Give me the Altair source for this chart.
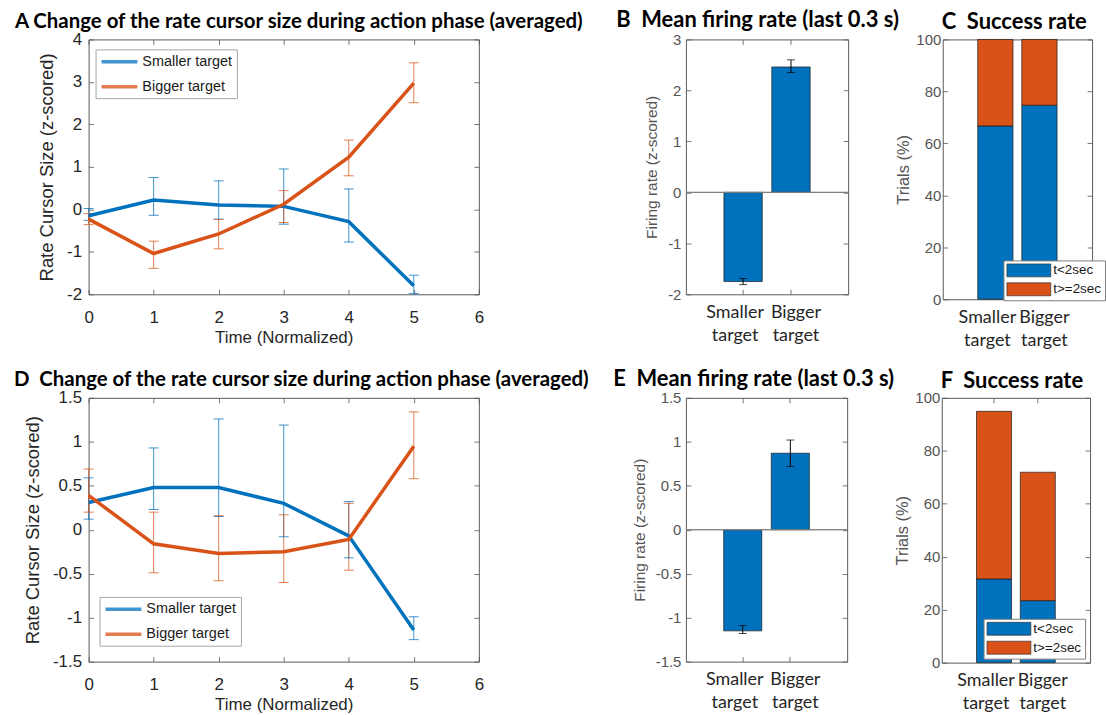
import altair as alt
import pandas as pd

# ---------------- data ----------------
time_steps = [0, 1, 2, 3, 4, 5]
series_names = ["Smaller target", "Bigger target"]
groups = ["Smaller target", "Bigger target"]
duration_classes = ["t<2sec", "t>=2sec"]

# A: rate cursor size over normalized time (mean and error-bar limits)
a_small_mean = [-0.15, 0.22, 0.10, 0.07, -0.29, -1.80]
a_small_lo = [-0.26, -0.14, -0.23, -0.35, -0.77, -1.98]
a_small_hi = [0.02, 0.75, 0.67, 0.95, 0.48, -1.55]
a_big_mean = [-0.23, -1.04, -0.58, 0.12, 1.23, 2.97]
a_big_lo = [-0.36, -1.39, -0.93, -0.31, 0.79, 2.51]
a_big_hi = [-0.10, -0.75, -0.24, 0.44, 1.63, 3.45]

# D: same measure, second data set
d_small_mean = [0.31, 0.48, 0.48, 0.30, -0.07, -1.14]
d_small_lo = [0.12, 0.23, 0.15, -0.08, -0.32, -1.25]
d_small_hi = [0.59, 0.93, 1.26, 1.19, 0.32, -0.99]
d_big_mean = [0.39, -0.16, -0.27, -0.25, -0.11, 0.95]
d_big_lo = [0.20, -0.49, -0.58, -0.60, -0.46, 0.58]
d_big_hi = [0.69, 0.20, 0.16, 0.17, 0.30, 1.34]

# B / E: mean firing rate in the last 0.3 s
b_rate = [-1.75, 2.46]
b_lo = [-1.81, 2.35]
b_hi = [-1.69, 2.60]
e_rate = [-1.15, 0.87]
e_lo = [-1.18, 0.72]
e_hi = [-1.09, 1.02]

# C / F: success rate split by completion time (% of trials)
c_fast = [66.7, 74.7]
c_slow = [33.3, 25.3]
f_fast = [31.6, 23.4]
f_slow = [63.3, 48.5]

# ---------------- styling ----------------
BLUE = "#0072BD"
ORANGE = "#D95319"
DARK = "#262626"
GREY = "#555555"
TICK = "#555555"
AXIS_FONT = "Liberation Sans"
TITLE_FONT = "Lato"
NB = "\u00a0"


def tick_axis(orient, values=None):
    """Tick marks only, pointing into the frame."""
    kw = dict(orient=orient, tickSize=5, offset=-5, domain=False, labels=False,
              grid=False, title=None, tickColor=TICK, tickWidth=0.8)
    if values is not None:
        kw["values"] = values
    return alt.Axis(**kw)


def label_axis(orient, title, values=None, color=DARK, size=17, title_size=17,
               label_pad=6, title_pad=6, **extra):
    kw = dict(orient=orient, tickSize=5, offset=-5, domain=False, grid=False,
              tickColor=TICK, tickWidth=0.8, labelFont=AXIS_FONT, labelFontSize=size,
              labelColor=color, labelPadding=label_pad, labelFlush=False,
              labelOverlap=False, titleFont=AXIS_FONT, titleFontSize=title_size,
              titleFontWeight="normal", titleColor=color, titlePadding=title_pad)
    if values is not None:
        kw["values"] = values
    kw["title"] = title
    kw.update(extra)
    return alt.Axis(**kw)


def panel_title(text, dx, size, offset=-2):
    return alt.Title(text, anchor="start", frame="group", dx=dx, offset=offset,
                     font=TITLE_FONT, fontSize=size, fontWeight="bold", color="black")


def line_legend(lx, ly):
    # 36 px stroke starting at the left edge of the symbol slot
    return alt.Legend(
        orient="none", legendX=lx, legendY=ly, title=None,
        symbolType="M-1,0H4.54", symbolSize=169, symbolOffset=0,
        symbolStrokeWidth=3.5, labelOffset=26,
        labelFont=AXIS_FONT, labelFontSize=14.5, labelColor="#1a1a1a",
        strokeColor="#a6a6a6", fillColor="white", padding=4, rowPadding=9)


def swatch_legend(lx, ly):
    # 44 x 13 px colour swatches
    return alt.Legend(
        orient="none", legendX=lx, legendY=ly, title=None,
        symbolType="M-1,-1H5.77V1H-1Z", symbolSize=169, symbolOffset=0,
        labelOffset=33, symbolStrokeColor="#333333", symbolStrokeWidth=0.7,
        labelFont=AXIS_FONT, labelFontSize=13.5, labelColor="#1a1a1a",
        strokeColor="#7f7f7f", fillColor="white", padding=3, rowPadding=3)


def line_panel(small, small_lo, small_hi, big, big_lo, big_hi, ydom, yvals,
               title, title_dx, lx, ly, width, height):
    rows = []
    for name, m, lo, hi in ((series_names[0], small, small_lo, small_hi),
                            (series_names[1], big, big_lo, big_hi)):
        for t, v, l, h in zip(time_steps, m, lo, hi):
            rows.append({"time": t, "series": name, "mean": v, "lo": l, "hi": h})
    df = pd.DataFrame(rows)

    xs = alt.Scale(domain=[0, 6], nice=False, zero=False)
    ys = alt.Scale(domain=ydom, nice=False, zero=False)
    color = alt.Color("series:N", scale=alt.Scale(domain=series_names, range=[BLUE, ORANGE]),
                      legend=line_legend(lx, ly))
    xvals = [0, 1, 2, 3, 4, 5, 6]

    base = alt.Chart(df)
    err = base.mark_rule(strokeWidth=1, opacity=0.75).encode(
        x=alt.X("time:Q", scale=xs, axis=tick_axis("top", xvals)),
        y=alt.Y("lo:Q", scale=ys, axis=tick_axis("right", yvals)),
        y2="hi:Q",
        color=color,
    )
    cap_lo = base.mark_tick(orient="horizontal", size=10, thickness=1, opacity=0.75).encode(
        x=alt.X("time:Q", scale=xs, axis=None),
        y=alt.Y("lo:Q", scale=ys, axis=None),
        color=color,
    )
    cap_hi = base.mark_tick(orient="horizontal", size=10, thickness=1, opacity=0.75).encode(
        x=alt.X("time:Q", scale=xs, axis=None),
        y=alt.Y("hi:Q", scale=ys, axis=None),
        color=color,
    )
    lines = base.mark_line(strokeWidth=3.5).encode(
        x=alt.X("time:Q", scale=xs,
                axis=label_axis("bottom", "Time (Normalized)", xvals, label_pad=15, title_pad=4)),
        y=alt.Y("mean:Q", scale=ys,
                axis=label_axis("left", "Rate Cursor Size (z-scored)", yvals,
                                title_size=18.5, label_pad=7, title_pad=10,
                                labelExpr="toString(datum.value)")),
        color=color,
        order="time:Q",
    )
    return (alt.layer(err, cap_lo, cap_hi, lines)
            .resolve_axis(x="independent", y="independent")
            .properties(width=width, height=height, title=panel_title(title, title_dx, 20.5)))


def group_x(axis):
    return alt.X("group:N", sort=groups,
                 scale=alt.Scale(domain=groups, paddingInner=0.2, paddingOuter=0.794),
                 axis=axis)


def category_axis():
    return alt.Axis(orient="bottom", tickSize=5, offset=-5, domain=False, grid=False,
                    tickColor=TICK, tickWidth=0.8, labelAngle=0,
                    labelExpr="split(datum.label, ' ')", labelFont=TITLE_FONT,
                    labelFontSize=18, labelLineHeight=23, labelPadding=9,
                    labelOffset={"condition": {"test": "datum.value == 'Smaller target'",
                                               "value": -8},
                                 "value": 5},
                    labelColor=DARK, labelBaseline="top", title=None)


def rate_panel(vals, lo, hi, ydom, yvals, title, title_dx, width, height):
    df = pd.DataFrame({"group": groups, "value": vals, "lo": lo, "hi": hi})
    ys = alt.Scale(domain=ydom, nice=False, zero=False)
    base = alt.Chart(df)
    bars = base.mark_bar(color=BLUE, stroke="#1a1a1a", strokeWidth=0.7).encode(
        x=group_x(category_axis()),
        y=alt.Y("value:Q", scale=ys,
                axis=label_axis("left", "Firing rate (z-scored)", yvals, color=GREY,
                                size=15, title_size=15.5, label_pad=5, title_pad=8,
                                labelExpr="toString(datum.value)")),
    )
    zero = base.mark_rule(color="#7f7f7f", strokeWidth=1).encode(
        y=alt.Y(datum=0, scale=ys, axis=None)
    )
    err = base.mark_rule(color="black", strokeWidth=1).encode(
        x=group_x(tick_axis("top")),
        y=alt.Y("lo:Q", scale=ys, axis=tick_axis("right", yvals)),
        y2="hi:Q",
    )
    cap_lo = base.mark_tick(orient="horizontal", size=8, thickness=1, color="black").encode(
        x=group_x(None), y=alt.Y("lo:Q", scale=ys, axis=None))
    cap_hi = base.mark_tick(orient="horizontal", size=8, thickness=1, color="black").encode(
        x=group_x(None), y=alt.Y("hi:Q", scale=ys, axis=None))
    return (alt.layer(bars, zero, err, cap_lo, cap_hi)
            .resolve_axis(x="independent", y="independent")
            .properties(width=width, height=height,
                        title=panel_title(title, title_dx, 22, offset=0)))


def success_panel(fast, slow, title, title_dx, lx, ly, width, height):
    rows = []
    for g, fv, sv in zip(groups, fast, slow):
        rows.append({"group": g, "part": duration_classes[0], "pct": fv, "rank": 0})
        rows.append({"group": g, "part": duration_classes[1], "pct": sv, "rank": 1})
    df = pd.DataFrame(rows)
    ys = alt.Scale(domain=[0, 100], nice=False, zero=False)
    yvals = [0, 20, 40, 60, 80, 100]
    base = alt.Chart(df)
    bars = base.mark_bar(stroke="#1a1a1a", strokeWidth=0.7).encode(
        x=group_x(category_axis()),
        y=alt.Y("pct:Q", stack="zero", scale=ys,
                axis=label_axis("left", "Trials (%)", yvals, color=GREY, size=15,
                                title_size=16.5, label_pad=2, title_pad=4)),
        color=alt.Color("part:N", scale=alt.Scale(domain=duration_classes, range=[BLUE, ORANGE]),
                        legend=swatch_legend(lx, ly)),
        order=alt.Order("rank:Q"),
    )
    frame = base.mark_tick(opacity=0).encode(
        x=group_x(tick_axis("top")),
        y=alt.Y("pct:Q", scale=ys, axis=tick_axis("right", yvals)),
    )
    return (alt.layer(bars, frame)
            .resolve_axis(x="independent", y="independent")
            .properties(width=width, height=height, title=panel_title(title, title_dx, 22)))


title_change = "Change of the rate cursor size during action phase (averaged)"
title_rate = "Mean firing rate (last 0.3 s)"
title_success = "Success rate"

panel_a = line_panel(a_small_mean, a_small_lo, a_small_hi, a_big_mean, a_big_lo, a_big_hi,
                     [-2, 4], [-2, -1, 0, 1, 2, 3, 4], "A " + title_change, -74,
                     7, 10, 392, 256)
panel_b = rate_panel(b_rate, b_lo, b_hi, [-2, 3], [-2, -1, 0, 1, 2, 3],
                     "B" + NB * 2 + title_rate, -70, 163, 256)
panel_c = success_panel(c_fast, c_slow, "C" + NB + " " + title_success, -1, 61, 222, 150, 261)

panel_d = line_panel(d_small_mean, d_small_lo, d_small_hi, d_big_mean, d_big_lo, d_big_hi,
                     [-1.5, 1.5], [-1.5, -1, -0.5, 0, 0.5, 1, 1.5],
                     "D" + NB * 2 + title_change, -75, 11, 200, 392, 265)
panel_e = rate_panel(e_rate, e_lo, e_hi, [-1.5, 1.5], [-1.5, -1, -0.5, 0, 0.5, 1, 1.5],
                     "E" + NB * 2 + title_rate, -73, 162, 265)
panel_f = success_panel(f_fast, f_slow, "F" + NB + " " + title_success, -1, 42, 222, 149, 266)


def row(left, mid, right):
    pair = alt.hconcat(mid, right, spacing=95, bounds="flush").resolve_scale(color="independent")
    return alt.hconcat(left, pair, spacing=208, bounds="flush").resolve_scale(color="independent")


chart = (
    alt.vconcat(row(panel_a, panel_b, panel_c), row(panel_d, panel_e, panel_f), spacing=17)
    .resolve_scale(color="independent")
    .properties(padding={"left": 13, "top": 7, "right": 0, "bottom": 0}, background="white")
    .configure_view(stroke="#595959", strokeWidth=1)
)

chart.save("out.html", embed_options={"renderer": "svg", "actions": False})
